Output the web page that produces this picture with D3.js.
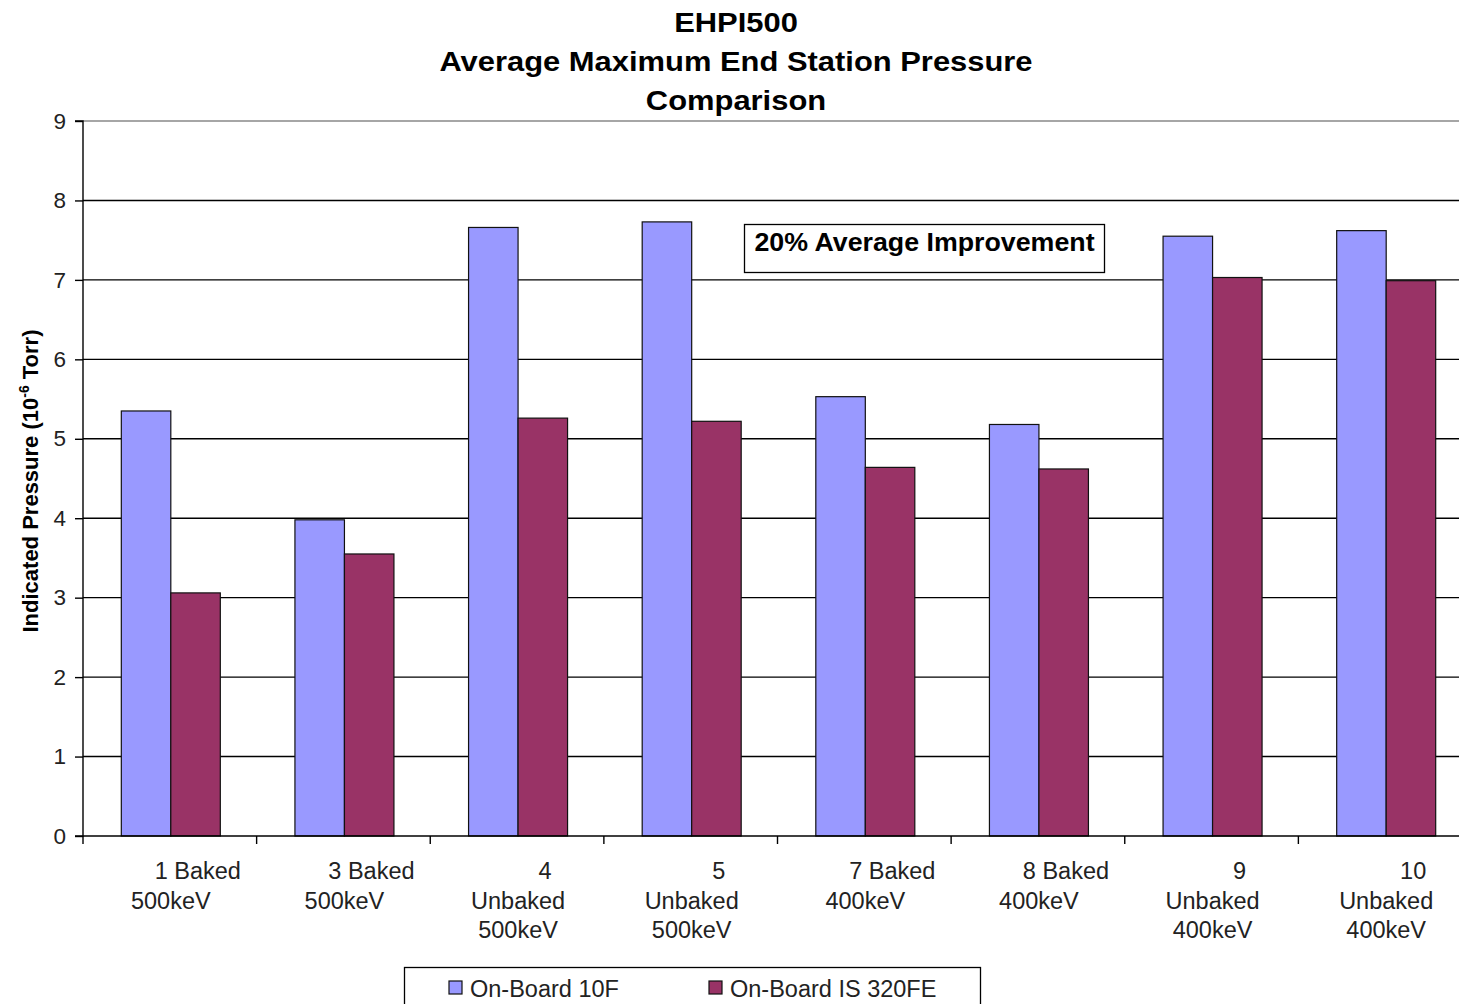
<!DOCTYPE html>
<html><head><meta charset="utf-8">
<script src="https://cdn.jsdelivr.net/npm/d3@7"></script>
<style>
html,body{margin:0;padding:0;background:#fff;overflow:hidden;}
svg{display:block;font-family:"Liberation Sans",Arial,sans-serif;}
</style></head>
<body>
<svg id="chart" width="1459" height="1004"></svg>
<script>
const categories = ["1","3","4","5","7","8","9","10"];
const categoryLabels = [
  ["1 Baked","500keV"],
  ["3 Baked","500keV"],
  ["4","Unbaked","500keV"],
  ["5","Unbaked","500keV"],
  ["7 Baked","400keV"],
  ["8 Baked","400keV"],
  ["9","Unbaked","400keV"],
  ["10","Unbaked","400keV"]
];
const seriesNames = ["On-Board 10F","On-Board IS 320FE"];
const onBoard10F = [5.35, 3.98, 7.66, 7.73, 5.53, 5.18, 7.55, 7.62];
const onBoardIS320FE = [3.06, 3.55, 5.26, 5.22, 4.64, 4.62, 7.03, 6.99];
const yTicks = [0,1,2,3,4,5,6,7,8,9];
const titleLines = ["EHPI500","Average Maximum End Station Pressure","Comparison"];
const annotation = "20% Average Improvement";
const colors = ["#9999FF","#993366"];

(function(){
const svg = d3.select("#chart");
const pL = 83, pR = 1472, pT = 121, pB = 836;
const stretch = (sel, cx, s) => sel.attr("transform", `translate(${cx},0) scale(${s},1) translate(${-cx},0)`);

const x = d3.scaleBand().domain(categories).range([pL, pR]).paddingInner(0).paddingOuter(0);
const y = d3.scaleLinear().domain([0,9]).range([pB, pT]);

// gridlines
svg.append("g").selectAll("line").data(yTicks.filter(d=>d>0)).join("line")
  .attr("x1", pL).attr("x2", pR)
  .attr("y1", d=>y(d)).attr("y2", d=>y(d))
  .attr("stroke", d=> d===9 ? "#888" : "#000").attr("stroke-width", 1.4);

// bars
const bw = 49.5;
const groups = svg.append("g").selectAll("g").data(categories).join("g")
  .attr("transform", d=>`translate(${x(d)},0)`);
groups.each(function(c, i){
  const g = d3.select(this);
  const vals = [onBoard10F[i], onBoardIS320FE[i]];
  const cx = x.bandwidth()/2 + 1;
  g.selectAll("rect").data(vals).join("rect")
    .attr("x", (v,j)=> cx - bw + j*bw)
    .attr("width", bw)
    .attr("y", v=>y(v))
    .attr("height", v=> y(0)-y(v))
    .attr("fill", (v,j)=>colors[j])
    .attr("stroke", "#111").attr("stroke-width", 1.2);
});

// y axis
const yAxis = d3.axisLeft(y).tickValues(yTicks).tickSize(8).tickPadding(9).tickFormat(d3.format("d"));
const yg = svg.append("g").attr("transform", `translate(${pL},0)`).call(yAxis);
yg.select(".domain").attr("stroke","#000").attr("stroke-width",1.4).attr("d", `M-8,${pT}H0V${pB}H-8`);
yg.selectAll(".tick line").attr("stroke","#000").attr("stroke-width",1.4);
yg.selectAll(".tick text").attr("font-size", 22.5).attr("fill","#222").attr("font-family","'Liberation Sans',Arial,sans-serif");

// x axis
const xAxis = d3.axisBottom(x).tickSize(0).tickFormat("");
const xg = svg.append("g").attr("transform", `translate(0,${pB})`).call(xAxis);
xg.select(".domain").attr("stroke","#000").attr("stroke-width",1.4).attr("d", `M${pL},0H${pR}`);
xg.selectAll(".tick").remove();
const bounds = categories.map(c=>x(c));
xg.selectAll("line.sep").data(bounds).join("line").attr("class","sep")
  .attr("x1", d=>d).attr("x2", d=>d).attr("y1",0).attr("y2",8)
  .attr("stroke","#000").attr("stroke-width",1.4);

// x labels
const lab = svg.append("g");
categories.forEach((c,i)=>{
  const cx = x(c) + x.bandwidth()/2 + 1;
  const lines = categoryLabels[i];
  const t = lab.append("text").attr("text-anchor","middle").attr("font-size",23.5).attr("fill","#222");
  lines.forEach((ln,k)=>{
    t.append("tspan").attr("x", cx + (k===0 ? 27 : 0)).attr("y", 879 + k*29.5).text(ln);
  });
});

// title
const tt = svg.append("text").attr("text-anchor","middle").attr("font-weight","bold").attr("font-size",27).attr("fill","#000");
titleLines.forEach((ln,k)=>{
  tt.append("tspan").attr("x",736).attr("y", 32 + k*39.2).text(ln);
});
stretch(tt, 736, 1.145);

// y label
const yl = svg.append("text").attr("transform","translate(38,481) rotate(-90)")
  .attr("text-anchor","middle").attr("font-weight","bold").attr("font-size",22).attr("fill","#000");
yl.append("tspan").text("Indicated Pressure (10");
yl.append("tspan").attr("font-size",14).attr("dy",-9).text("-6");
yl.append("tspan").attr("dy",9).text(" Torr)");

// annotation
svg.append("rect").attr("x",744.5).attr("y",224.5).attr("width",360).attr("height",48)
  .attr("fill","#fff").attr("stroke","#000").attr("stroke-width",1.3);
const an = svg.append("text").attr("x",924.5).attr("y",251).attr("text-anchor","middle")
  .attr("font-weight","bold").attr("font-size",26).attr("fill","#000").text(annotation);
stretch(an, 924.5, 1.03);

// legend
const lg = svg.append("g");
lg.append("rect").attr("x",404.5).attr("y",967.5).attr("width",576).attr("height",50)
  .attr("fill","#fff").attr("stroke","#000").attr("stroke-width",1.3);
const legX = [449, 709];
seriesNames.forEach((s,i)=>{
  lg.append("rect").attr("x",legX[i]).attr("y",981).attr("width",13).attr("height",13)
    .attr("fill",colors[i]).attr("stroke","#111").attr("stroke-width",1.2);
  lg.append("text").attr("x",legX[i]+21).attr("y",997).attr("font-size",23.5).attr("fill","#222").text(s);
});
})();
</script>
</body></html>
